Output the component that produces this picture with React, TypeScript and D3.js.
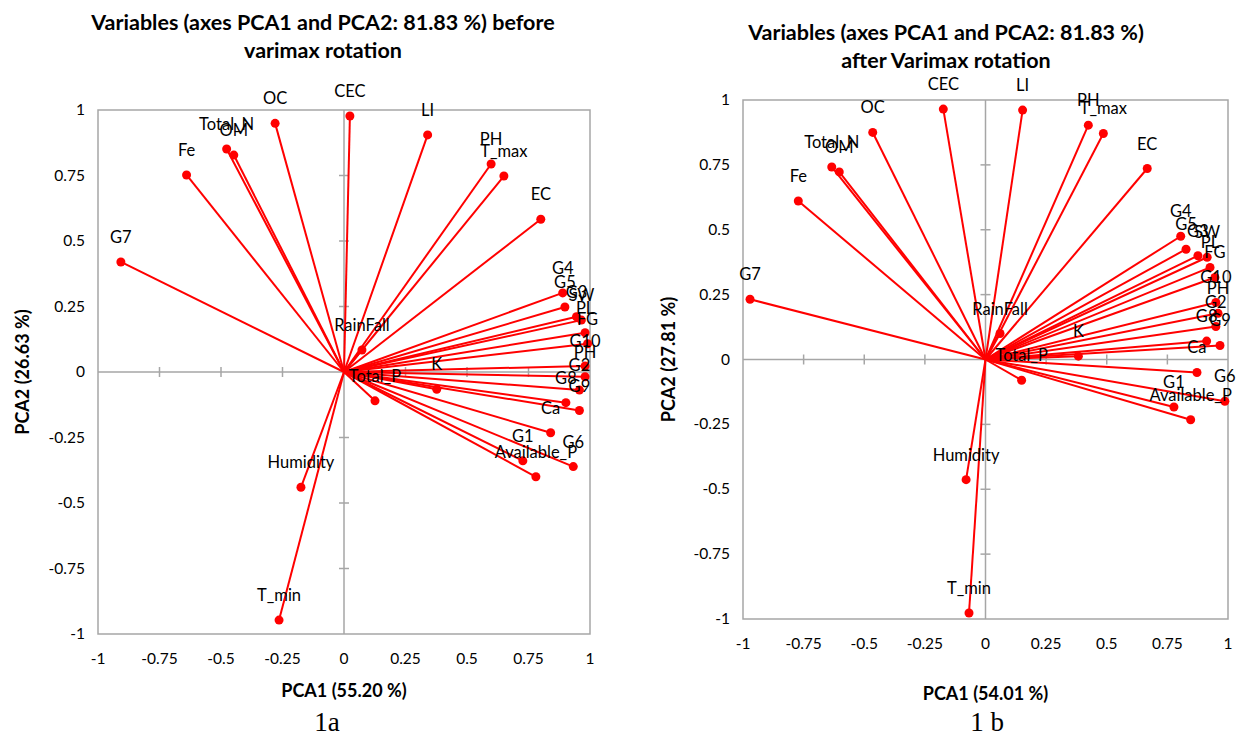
import React, { useEffect, useRef } from "react";
import * as d3 from "d3";

// variable names (same order in both panels)
const variables = [
  "CEC", "LI", "PH", "T_max", "EC", "OC", "Total_N", "OM", "Fe", "G7",
  "RainFall", "Total_P", "K", "Humidity", "T_min", "G4", "G5", "G3", "SW", "PL",
  "FG", "G10", "PH", "G2", "G8", "G9", "Ca", "G1", "Available_P", "G6",
];

// loadings before varimax rotation
const beforeX = [
  0.024, 0.34, 0.598, 0.65, 0.8, -0.28, -0.477, -0.448, -0.64, -0.907,
  0.073, 0.126, 0.377, -0.175, -0.264, 0.889, 0.898, 0.945, 0.965, 0.98,
  0.99, 0.98, 0.98, 0.957, 0.902, 0.957, 0.84, 0.727, 0.78, 0.932,
];
const beforeY = [
  0.977, 0.905, 0.794, 0.748, 0.583, 0.949, 0.851, 0.828, 0.752, 0.42,
  0.084, -0.11, -0.066, -0.44, -0.947, 0.302, 0.248, 0.211, 0.198, 0.15,
  0.108, 0.023, -0.018, -0.069, -0.117, -0.147, -0.232, -0.339, -0.4, -0.361,
];

// loadings after varimax rotation
const afterX = [
  -0.174, 0.153, 0.424, 0.486, 0.667, -0.465, -0.634, -0.603, -0.772, -0.971,
  0.06, 0.149, 0.383, -0.08, -0.068, 0.805, 0.827, 0.876, 0.914, 0.926,
  0.946, 0.95, 0.959, 0.95, 0.912, 0.967, 0.872, 0.777, 0.846, 0.987,
];
const afterY = [
  0.965, 0.961, 0.903, 0.871, 0.736, 0.875, 0.742, 0.723, 0.611, 0.232,
  0.1, -0.08, 0.013, -0.463, -0.977, 0.475, 0.425, 0.4, 0.394, 0.355,
  0.316, 0.22, 0.178, 0.127, 0.071, 0.054, -0.05, -0.183, -0.232, -0.161,
];

const ticks = [-1, -0.75, -0.5, -0.25, 0, 0.25, 0.5, 0.75, 1];

const WIDTH = 1236;
const HEIGHT = 746;
const FONT = "Lato, 'Open Sans', sans-serif";
const GRAY = "#a6a6a6";
const RED = "#ff0000";

function drawPanel(svg, opts) {
  const { box, xs, ys, title, xTitle, yTitle, caption } = opts;
  const g = svg.append("g");

  const x = d3.scaleLinear().domain([-1, 1]).range([box.left, box.right]);
  const y = d3.scaleLinear().domain([-1, 1]).range([box.bottom, box.top]);

  // frame
  g.append("rect")
    .attr("x", box.left)
    .attr("y", box.top)
    .attr("width", box.right - box.left)
    .attr("height", box.bottom - box.top)
    .attr("fill", "none")
    .attr("stroke", GRAY)
    .attr("stroke-width", 1.5);

  // zero axes
  g.append("line")
    .attr("x1", box.left).attr("x2", box.right)
    .attr("y1", y(0)).attr("y2", y(0))
    .attr("stroke", GRAY).attr("stroke-width", 1.5);
  g.append("line")
    .attr("x1", x(0)).attr("x2", x(0))
    .attr("y1", box.top).attr("y2", box.bottom)
    .attr("stroke", GRAY).attr("stroke-width", 1.5);

  // cross ticks on the zero axes
  const inner = ticks.filter(t => t !== 0 && Math.abs(t) !== 1);
  g.selectAll(".xt").data(inner).join("line")
    .attr("x1", d => x(d)).attr("x2", d => x(d))
    .attr("y1", y(0) - 5).attr("y2", y(0) + 5)
    .attr("stroke", GRAY).attr("stroke-width", 1.5);
  g.selectAll(".yt").data(inner).join("line")
    .attr("x1", x(0) - 5).attr("x2", x(0) + 5)
    .attr("y1", d => y(d)).attr("y2", d => y(d))
    .attr("stroke", GRAY).attr("stroke-width", 1.5);

  // tick labels
  g.selectAll(".xl").data(ticks).join("text")
    .attr("x", d => x(d))
    .attr("y", box.bottom + 30)
    .attr("text-anchor", "middle")
    .style("font-family", FONT).style("font-size", "15.5px")
    .text(d => d);
  g.selectAll(".yl").data(ticks).join("text")
    .attr("x", box.left - 13)
    .attr("y", d => y(d) + 5)
    .attr("text-anchor", "end")
    .style("font-family", FONT).style("font-size", "15.5px")
    .text(d => d);

  const pts = variables.map((name, i) => ({ name, vx: xs[i], vy: ys[i] }));

  // vectors
  g.selectAll(".vec").data(pts).join("line")
    .attr("x1", x(0)).attr("y1", y(0))
    .attr("x2", d => x(d.vx)).attr("y2", d => y(d.vy))
    .attr("stroke", RED).attr("stroke-width", 2);
  g.selectAll(".pt").data(pts).join("circle")
    .attr("cx", d => x(d.vx)).attr("cy", d => y(d.vy))
    .attr("r", 4.5).attr("fill", RED);
  g.selectAll(".lab").data(pts).join("text")
    .attr("x", d => x(d.vx))
    .attr("y", d => y(d.vy) - 19)
    .attr("text-anchor", "middle")
    .style("font-family", FONT).style("font-size", "16.5px")
    .text(d => d.name);

  // titles
  const t = g.append("text")
    .attr("text-anchor", "middle")
    .style("font-family", FONT).style("font-size", "21.5px").style("font-weight", "bold");
  title.lines.forEach((line, i) => {
    t.append("tspan").attr("x", title.x).attr("y", title.y + i * 28).text(line);
  });

  g.append("text")
    .attr("x", x(0)).attr("y", xTitle.y)
    .attr("text-anchor", "middle")
    .style("font-family", FONT).style("font-size", "18px").style("font-weight", "bold")
    .text(xTitle.text);

  g.append("text")
    .attr("transform", `translate(${yTitle.x},${y(0)}) rotate(-90)`)
    .attr("text-anchor", "middle")
    .style("font-family", FONT).style("font-size", "18px").style("font-weight", "bold")
    .text(yTitle.text);

  g.append("text")
    .attr("x", caption.x).attr("y", caption.y)
    .attr("text-anchor", "middle")
    .style("font-family", "'Liberation Serif', 'Times New Roman', serif")
    .style("font-size", "27px")
    .text(caption.text);
}

export default function App() {
  const ref = useRef(null);

  useEffect(() => {
    const svg = d3.select(ref.current);
    svg.selectAll("*").remove();

    drawPanel(svg, {
      box: { left: 98, right: 590, top: 110, bottom: 634 },
      xs: beforeX,
      ys: beforeY,
      title: { x: 323, y: 30, lines: ["Variables (axes PCA1 and PCA2: 81.83 %) before", "varimax rotation"] },
      xTitle: { y: 697, text: "PCA1 (55.20 %)" },
      yTitle: { x: 29, text: "PCA2 (26.63 %)" },
      caption: { x: 327, y: 731, text: "1a" },
    });

    drawPanel(svg, {
      box: { left: 743, right: 1228, top: 100, bottom: 619 },
      xs: afterX,
      ys: afterY,
      title: { x: 946, y: 40, lines: ["Variables (axes PCA1 and PCA2: 81.83 %)", "after Varimax rotation"] },
      xTitle: { y: 700, text: "PCA1 (54.01 %)" },
      yTitle: { x: 675, text: "PCA2 (27.81 %)" },
      caption: { x: 987, y: 731, text: "1 b" },
    });
  }, []);

  return (
    <svg
      ref={ref}
      width={WIDTH}
      height={HEIGHT}
      style={{ position: "absolute", left: 0, top: 0, background: "#fff" }}
    />
  );
}
